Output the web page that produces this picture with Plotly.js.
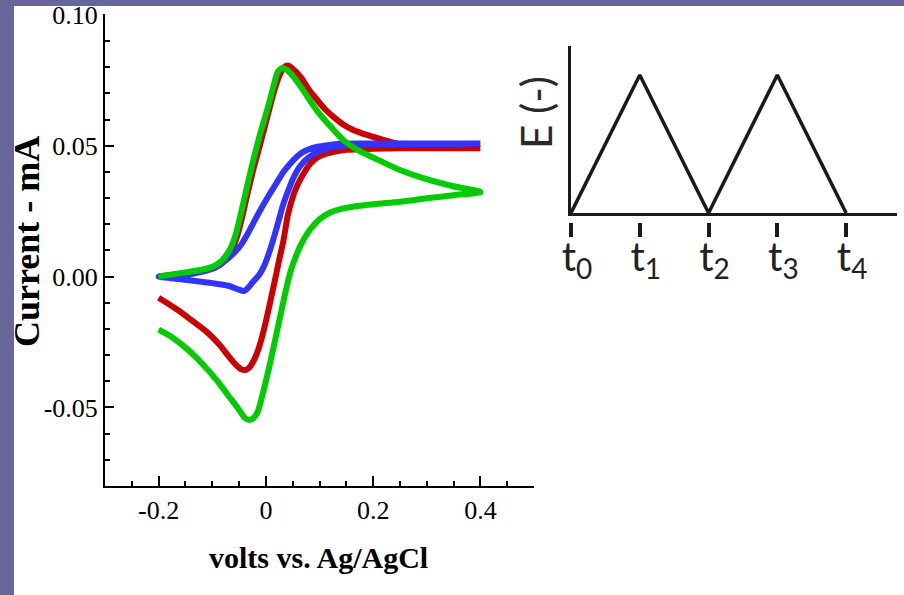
<!DOCTYPE html>
<html>
<head>
<meta charset="utf-8">
<script src="https://cdn.plot.ly/plotly-3.0.1.min.js"></script>
<style>
  html, body { margin: 0; padding: 0; width: 904px; height: 595px; background: #ffffff; overflow: hidden; }
  #plot { position: absolute; left: 0; top: 0; width: 904px; height: 595px; }
</style>
</head>
<body>
<div id="plot"></div>
<script>
// ---- Cyclic voltammograms (volts vs Ag/AgCl, current in mA) ----
// Each curve: forward scan -0.2 -> 0.4 V, then reverse scan 0.4 -> -0.2 V
const greenFwdX = [-0.2,-0.15,-0.12,-0.1,-0.085,-0.075,-0.065,-0.055,-0.045,-0.035,-0.022,-0.01,0.004,0.014,0.022,0.031,0.04,0.052,0.065,0.078,0.095,0.115,0.144,0.17,0.2,0.25,0.3,0.35,0.4];
const greenFwdY = [0.0,0.0016,0.0026,0.0037,0.0055,0.0078,0.0112,0.0170,0.0255,0.0345,0.0457,0.055,0.0648,0.0725,0.0781,0.0797,0.0788,0.0762,0.0725,0.0686,0.0635,0.0586,0.0522,0.0485,0.0455,0.0407,0.0372,0.0345,0.0323];
const greenRevX = [0.35,0.3,0.25,0.2,0.16,0.139,0.12,0.102,0.09,0.078,0.065,0.055,0.046,0.037,0.028,0.018,0.009,0.0,-0.008,-0.015,-0.023,-0.031,-0.04,-0.048,-0.058,-0.07,-0.09,-0.12,-0.145,-0.175,-0.2];
const greenRevY = [0.0311,0.0299,0.0286,0.0276,0.0266,0.0258,0.0245,0.0222,0.0198,0.0167,0.0120,0.0072,0.0020,-0.0055,-0.0140,-0.0235,-0.0320,-0.0400,-0.0465,-0.0515,-0.0540,-0.0548,-0.0538,-0.0515,-0.0487,-0.0455,-0.0400,-0.0330,-0.0280,-0.0232,-0.0203];

const redFwdX = [-0.2,-0.15,-0.12,-0.1,-0.085,-0.075,-0.065,-0.055,-0.045,-0.035,-0.022,-0.01,0.004,0.016,0.026,0.034,0.041,0.052,0.065,0.08,0.096,0.11,0.126,0.145,0.163,0.19,0.219,0.25,0.281,0.32,0.36,0.4];
const redFwdY = [0.0,0.0013,0.0022,0.003,0.0045,0.0065,0.0095,0.0145,0.022,0.031,0.042,0.051,0.062,0.0712,0.0772,0.0800,0.0806,0.079,0.0762,0.0715,0.0674,0.064,0.061,0.058,0.056,0.054,0.0522,0.0505,0.0495,0.0491,0.049,0.049];
const redRevX = [0.35,0.3,0.25,0.2,0.15,0.126,0.11,0.096,0.083,0.07,0.059,0.052,0.041,0.033,0.024,0.015,0.0056,-0.0037,-0.013,-0.022,-0.03,-0.037,-0.045,-0.05,-0.059,-0.075,-0.089,-0.11,-0.139,-0.167,-0.2];
const redRevY = [0.049,0.049,0.049,0.0488,0.0484,0.0476,0.0468,0.0455,0.0432,0.0392,0.0350,0.0315,0.0235,0.0140,0.0056,-0.0032,-0.0120,-0.0203,-0.0272,-0.0318,-0.0345,-0.0356,-0.0355,-0.0348,-0.0330,-0.0290,-0.0255,-0.0212,-0.0166,-0.0124,-0.0081];

const blueFwdX = [-0.2,-0.152,-0.12,-0.1,-0.085,-0.07,-0.058,-0.046,-0.035,-0.022,-0.01,0.004,0.02,0.033,0.05,0.065,0.08,0.096,0.115,0.139,0.17,0.2,0.3,0.4];
const blueFwdY = [0.0,0.0006,0.0018,0.003,0.0047,0.0070,0.0093,0.0122,0.0160,0.0210,0.0255,0.0305,0.0358,0.0400,0.0442,0.0470,0.0486,0.0496,0.0502,0.0507,0.0508,0.0508,0.0508,0.0508];
const blueRevX = [0.3,0.2,0.15,0.13,0.11,0.096,0.08,0.065,0.052,0.043,0.033,0.024,0.015,0.005,-0.004,-0.013,-0.022,-0.032,-0.041,-0.05,-0.07,-0.1,-0.12,-0.163,-0.2];
const blueRevY = [0.0506,0.0505,0.0502,0.0497,0.0487,0.0475,0.0455,0.0425,0.038,0.0335,0.028,0.0215,0.015,0.0085,0.0037,0.0005,-0.0015,-0.004,-0.0055,-0.005,-0.0035,-0.0025,-0.002,-0.0009,0.0];

// Axis ticks (main chart)
const xTickVals = [-0.2, 0, 0.2, 0.4];
const xTickText = ["-0.2", "0", "0.2", "0.4"];
const yTickVals = [0.10, 0.05, 0.00, -0.05];
const yTickText = ["0.10", "0.05", "0.00", "-0.05"];

// ---- Inset: triangular potential waveform ----
const tVals = [0, 1, 2, 3, 4];
const eVals = [0, 1, 0, 1, 0];
const tLabels = ["t<sub>0</sub>", "t<sub>1</sub>", "t<sub>2</sub>", "t<sub>3</sub>", "t<sub>4</sub>"];

const xTitle = "volts vs. Ag/AgCl";
const yTitle = "Current - mA";
const eTitle = "E (-)";

const GREEN = "#00cc00", RED = "#cc0000", BLUE = "#3333ff", FRAME = "#666699";
const LW = 6;

function loop(fx, fy, rx, ry) { return { x: fx.concat(rx), y: fy.concat(ry) }; }
const red = loop(redFwdX, redFwdY, redRevX, redRevY);
const blue = loop(blueFwdX, blueFwdY, blueRevX, blueRevY);
const green = loop(greenFwdX, greenFwdY, greenRevX, greenRevY);

const traces = [
  { x: red.x, y: red.y, mode: "lines", line: { color: RED, width: LW, shape: "spline", smoothing: 0.8 }, xaxis: "x", yaxis: "y", hoverinfo: "skip" },
  { x: blue.x, y: blue.y, mode: "lines", line: { color: BLUE, width: LW, shape: "spline", smoothing: 0.8 }, xaxis: "x", yaxis: "y", hoverinfo: "skip" },
  { x: green.x, y: green.y, mode: "lines", line: { color: GREEN, width: LW, shape: "spline", smoothing: 0.8 }, xaxis: "x", yaxis: "y", hoverinfo: "skip" },
  { x: tVals, y: eVals, mode: "lines", line: { color: "#1a1a1a", width: 3.5 }, xaxis: "x2", yaxis: "y2", cliponaxis: false, hoverinfo: "skip" },
  // tick marks of the time axis (detached below the axis line)
  { x: tVals, y: eVals, mode: "markers", marker: { size: 1, opacity: 0 }, xaxis: "x3", yaxis: "y2", hoverinfo: "skip" },
  // labels of the time axis
  { x: tVals, y: eVals, mode: "markers", marker: { size: 1, opacity: 0 }, xaxis: "x4", yaxis: "y2", hoverinfo: "skip" }
];

const W = 904, H = 595;
const serif = "Liberation Serif, Times New Roman, serif";
const sans = "Lato, Open Sans, sans-serif";

const layout = {
  width: W, height: H,
  margin: { l: 0, r: 0, t: 0, b: 0 },
  paper_bgcolor: "#ffffff", plot_bgcolor: "rgba(0,0,0,0)",
  showlegend: false,
  xaxis: {
    domain: [105 / W, 534 / W], range: [-0.3, 0.5], anchor: "y",
    showline: true, linecolor: "#000", linewidth: 2, mirror: false,
    showgrid: false, zeroline: false,
    ticks: "inside", ticklen: 10, tickwidth: 2, tickcolor: "#000",
    tickmode: "array", tickvals: xTickVals, ticktext: xTickText,
    tickfont: { family: serif, size: 26, color: "#000" },
    minor: { ticks: "inside", ticklen: 5, tickwidth: 2, tickcolor: "#000", dtick: 0.05, tick0: 0, showgrid: false }
  },
  yaxis: {
    domain: [109 / H, 581 / H], range: [-0.08, 0.1003], anchor: "x",
    showline: true, linecolor: "#000", linewidth: 2, mirror: false,
    showgrid: false, zeroline: false,
    ticks: "inside", ticklen: 9, tickwidth: 2, tickcolor: "#000",
    tickmode: "array", tickvals: yTickVals, ticktext: yTickText,
    ticklabeloverflow: "allow",
    tickfont: { family: serif, size: 26, color: "#000" },
    minor: { ticks: "inside", ticklen: 5, tickwidth: 2, tickcolor: "#000", dtick: 0.01, tick0: 0, showgrid: false }
  },
  xaxis2: {
    domain: [571 / W, 897 / W], range: [0, 4.74], anchor: "y2",
    showline: true, linecolor: "#1a1a1a", linewidth: 3,
    showgrid: false, zeroline: false, showticklabels: false, ticks: ""
  },
  yaxis2: {
    domain: [382 / H, 549 / H], range: [0, 1.21], anchor: "x2",
    showline: true, linecolor: "#1a1a1a", linewidth: 3,
    showgrid: false, zeroline: false, showticklabels: false, ticks: ""
  },
  xaxis3: {
    overlaying: "x2", anchor: "free", position: 373 / H, range: [0, 4.74],
    showline: false, showgrid: false, zeroline: false, showticklabels: false,
    ticks: "outside", ticklen: 14, tickwidth: 4, tickcolor: "#1a1a1a",
    tickmode: "array", tickvals: tVals
  },
  xaxis4: {
    overlaying: "x2", anchor: "free", position: 365 / H, range: [0, 4.74],
    showline: false, showgrid: false, zeroline: false, ticks: "",
    tickmode: "array", tickvals: tVals, ticktext: tLabels,
    ticklabelshift: 6,
    tickfont: { family: sans, size: 40, color: "#222" }
  },
  shapes: [
    // slide frame: left and top bands
    { type: "rect", xref: "paper", yref: "paper", x0: 0, x1: 14 / W, y0: 0, y1: 1, fillcolor: FRAME, line: { width: 0 }, layer: "above" },
    { type: "rect", xref: "paper", yref: "paper", x0: 0, x1: 1, y0: 1 - 6 / H, y1: 1, fillcolor: FRAME, line: { width: 0 }, layer: "above" }
  ],
  annotations: [
    { text: "<b>" + xTitle + "</b>", xref: "paper", yref: "paper", x: 318 / W, y: 1 - 557 / H,
      showarrow: false, xanchor: "center", yanchor: "middle", font: { family: serif, size: 30, color: "#000" } },
    { text: "<b>" + yTitle + "</b>", xref: "paper", yref: "paper", x: 27 / W, y: 1 - 242 / H,
      showarrow: false, textangle: -90, xanchor: "center", yanchor: "middle", font: { family: serif, size: 36, color: "#000" } },
    { text: eTitle, xref: "paper", yref: "paper", x: 536 / W, y: 1 - 113 / H,
      showarrow: false, textangle: -90, xanchor: "center", yanchor: "middle", font: { family: sans, size: 42, color: "#2a2a2a" } }
  ]
};

Plotly.newPlot("plot", traces, layout, { staticPlot: true, displayModeBar: false });
</script>
</body>
</html>
